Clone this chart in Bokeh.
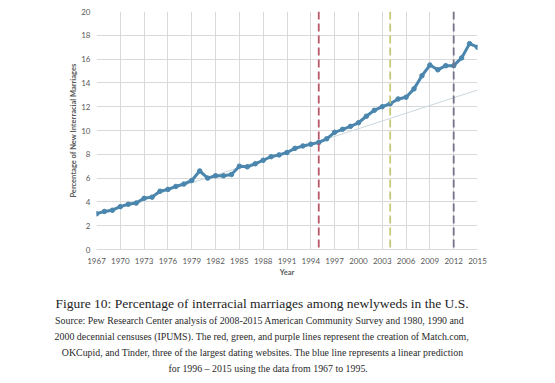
from bokeh.plotting import figure
from bokeh.models import Range1d, FixedTicker, Span, ColumnDataSource, Title
from bokeh.embed import file_html
from bokeh.resources import INLINE

# ---- data ----
years = list(range(1967, 2016))
pct = [3.0, 3.2, 3.3, 3.6, 3.8, 3.9, 4.3, 4.4, 4.9, 5.05,
       5.3, 5.5, 5.8, 6.6, 6.0, 6.2, 6.2, 6.3, 7.0, 6.95,
       7.2, 7.5, 7.8, 7.95, 8.15, 8.5, 8.7, 8.85, 9.0, 9.3,
       9.85, 10.1, 10.35, 10.65, 11.2, 11.7, 12.0, 12.25, 12.65, 12.8,
       13.5, 14.6, 15.5, 15.1, 15.45, 15.45, 16.1, 17.3, 17.0]
trend_years = [1967, 2015]
trend_pct = [3.0, 13.4]
site_years = [1995, 2004, 2012]
site_colors = ["#b8586a", "#c5c878", "#76728a"]
x_ticks = list(range(1967, 2016, 3))
y_ticks = list(range(0, 21, 2))

title_text = "Figure 10: Percentage of interracial marriages among newlyweds in the U.S."
caption_lines = [
    "Source: Pew Research Center analysis of 2008-2015 American Community Survey and 1980, 1990 and",
    "2000 decennial censuses (IPUMS). The red, green, and purple lines represent the creation of Match.com,",
    "OKCupid, and Tinder, three of the largest dating websites.  The blue line represents a linear prediction",
    "for 1996 \u2013 2015 using the data from 1967 to 1995.",
]

GRID = "#d9d9d9"
TICK = "#595959"
BLUE = "#4a86ad"

p = figure(frame_width=381, frame_height=238, output_backend="svg", toolbar_location=None,
           x_range=Range1d(1967, 2015), y_range=Range1d(0, 20),
           min_border_left=96, min_border_right=69, min_border_top=11, min_border_bottom=0)
p.outline_line_color = None
p.background_fill_color = "white"
p.border_fill_color = "white"

p.xaxis.ticker = FixedTicker(ticks=x_ticks)
p.yaxis.ticker = FixedTicker(ticks=y_ticks)
for ax in (p.xaxis, p.yaxis):
    ax.major_tick_line_color = None
    ax.minor_tick_line_color = None
    ax.major_tick_out = 0
    ax.major_tick_in = 0
    ax.minor_tick_out = 0
    ax.major_label_text_font = "Lato"
    ax.major_label_text_font_size = "8px"
    ax.major_label_text_color = TICK
    ax.axis_label_text_font = "Lato"
    ax.axis_label_text_font_size = "7.5px"
    ax.axis_label_text_font_style = "bold"
    ax.axis_label_text_color = TICK
p.xaxis.axis_line_color = GRID
p.yaxis.axis_line_color = None
p.xaxis.major_label_standoff = 8
p.yaxis.major_label_standoff = 6
p.xaxis.axis_label = "Year"
p.yaxis.axis_label = "Percentage of New Interracial Marriages"
p.xaxis.axis_label_standoff = 1
p.yaxis.axis_label_standoff = 0

p.xgrid.grid_line_color = GRID
p.ygrid.grid_line_color = GRID

src = ColumnDataSource(dict(year=years, pct=pct))
p.line(trend_years, trend_pct, line_color="#c9d7dd", line_width=1)
p.line("year", "pct", source=src, line_color=BLUE, line_width=3)
p.scatter("year", "pct", source=src, size=4.5, fill_color=BLUE, line_color=BLUE)

for yr, col in zip(site_years, site_colors):
    p.add_layout(Span(location=yr, dimension="height", line_color=col,
                      line_width=1.8, line_dash="8 4"))

# caption as stacked titles below the x axis
p.add_layout(Title(text=" ", text_font_size="4px", standoff=6), "below")
p.add_layout(Title(text=title_text, align="left", offset=-41, standoff=1.5,
                   text_font="Liberation Serif", text_font_size="13.5px",
                   text_font_style="normal", text_color="#1e1e1e"), "below")
for off, line in zip([-41.4, -41.9, -34.7, 71.9], caption_lines):
    p.add_layout(Title(text=line, align="left", offset=off, standoff=2.7,
                       text_font="Liberation Serif", text_font_size="9.9px",
                       text_font_style="normal", text_color="#2a2a2a"), "below")

open("out.html", "w").write(file_html(p, INLINE))
